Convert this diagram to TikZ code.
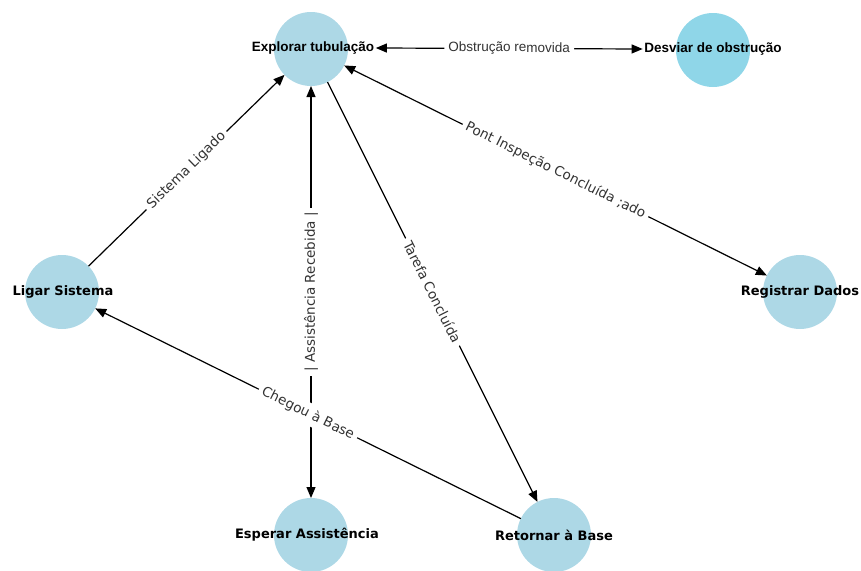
\documentclass[tikz,border=0pt]{standalone}
\usepackage{fontspec}
\setmainfont{DejaVu Sans}
\newfontfamily\arialf{Liberation Sans}
\usetikzlibrary{arrows.meta}
\definecolor{nodeblue}{HTML}{ADD8E6}
\definecolor{nodecyan}{HTML}{8FD6E8}
\definecolor{lbl}{HTML}{333333}
\begin{document}
\begin{tikzpicture}[x=1pt,y=-1pt,
  state/.style={circle,fill=nodeblue,draw=none,minimum size=74pt,inner sep=0pt,outer sep=0pt},
  nlabel/.style={font=\fontsize{13}{15}\selectfont\bfseries,text=black,inner sep=1.5pt},
  anlabel/.style={nlabel,font=\arialf\fontsize{13.5}{15}\selectfont\bfseries},
  tip/.tip={Triangle[length=11pt,width=9pt]},
  edge/.style={line width=1.2pt,draw=black,-tip},
  biedge/.style={line width=1.2pt,draw=black,tip-tip},
  elabel/.style={font=\fontsize{13.5}{16}\selectfont,text=lbl,fill=white,inner sep=4pt,sloped,midway}
]
\useasboundingbox (0,0) rectangle (861,570);

% circles
\node[state] (explorar) at (311,49) {};
\node[state,fill=nodecyan] (desviar) at (713,50) {};
\node[state] (ligar) at (62,292) {};
\node[state] (registrar) at (800,292) {};
\node[state] (esperar) at (311,535) {};
\node[state] (retornar) at (554,535) {};

% node texts
\node[anlabel] (explorarT) at (313,48) {Explorar tubulação};
\node[anlabel] (desviarT) at (713,49) {Desviar de obstrução};
\node[nlabel] (ligarT) at (63,292) {Ligar Sistema};
\node[nlabel] (registrarT) at (800,292) {Registrar Dados};
\node[nlabel] (esperarT) at (307,535) {Esperar Assistência};
\node[nlabel] (retornarT) at (554,535) {Retornar à Base};

% edges
\draw[biedge] (explorarT.east) -- node[elabel,font=\arialf\fontsize{13.5}{16}\selectfont] {Obstrução removida} (desviarT.west);
\draw[edge] (ligar) -- node[elabel] {Sistema Ligado} (explorar);
\draw[biedge] (esperar) -- node[elabel] {| Assistência Recebida |} (explorar);
\draw[edge] (explorar) -- node[elabel] {Tarefa Concluída} (retornar);
\draw[biedge] (explorar) -- node[elabel] {Pont Inspeção Concluída ;ado} (registrar);
\draw[edge] (retornar) -- node[elabel] {Chegou à Base} (ligar);
\end{tikzpicture}
\end{document}
